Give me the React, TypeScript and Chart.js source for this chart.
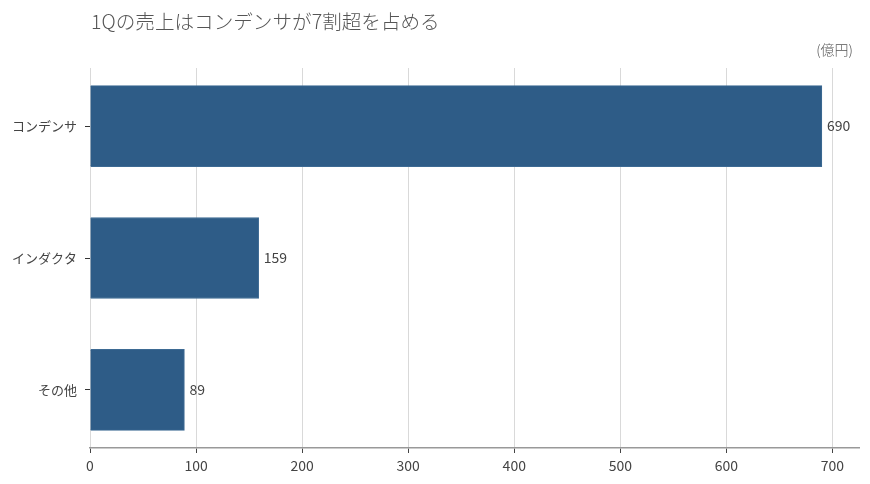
import React, { useEffect, useRef } from 'react';
import Chart from 'chart.js/auto';

const categories = ['コンデンサ', 'インダクタ', 'その他'];
const sales = [690, 159, 89];
const xTicks = [0, 100, 200, 300, 400, 500, 600, 700];

const titleText = '1Qの売上はコンデンサが7割超を占める';
const unitText = '(億円)';
const font = '"Noto Sans CJK JP", "Noto Sans", sans-serif';
const barColor = '#2e5c87';

// title and unit label drawn relative to the plot area
const headerPlugin = {
  id: 'header',
  afterDraw(chart: any) {
    const { ctx, chartArea } = chart;
    ctx.save();
    ctx.fillStyle = '#555';
    ctx.textBaseline = 'middle';
    ctx.font = `300 19.6px ${font}`;
    ctx.textAlign = 'left';
    ctx.fillText(titleText, chartArea.left + 1, 22);
    ctx.font = `300 14px ${font}`;
    ctx.textAlign = 'right';
    ctx.fillText(unitText, chartArea.right - 6, 50);
    ctx.restore();
  },
};

// value labels at the end of each bar
const valueLabels = {
  id: 'valueLabels',
  afterDatasetsDraw(chart: any) {
    const { ctx } = chart;
    const meta = chart.getDatasetMeta(0);
    ctx.save();
    ctx.fillStyle = '#444';
    ctx.font = `14px ${font}`;
    ctx.textAlign = 'left';
    ctx.textBaseline = 'middle';
    meta.data.forEach((bar: any, i: number) => {
      ctx.fillText(String(sales[i]), bar.x + 5, bar.y);
    });
    ctx.restore();
  },
};

const App = () => {
  const canvasRef = useRef<HTMLCanvasElement | null>(null);
  const chartRef = useRef<Chart | null>(null);

  useEffect(() => {
    document.body.style.margin = '0';
    if (!canvasRef.current) return;
    if (chartRef.current) chartRef.current.destroy();

    const ctx = canvasRef.current.getContext('2d');
    if (!ctx) return;

    chartRef.current = new Chart(ctx, {
      type: 'bar',
      data: {
        datasets: [
          {
            data: sales.map((v, i) => ({ x: v, y: i })),
            backgroundColor: barColor,
            borderColor: '#3d6a93',
            borderWidth: 1,
            barThickness: 81,
          },
        ],
      },
      options: {
        indexAxis: 'y',
        animation: false,
        responsive: false,
        maintainAspectRatio: false,
        layout: { padding: { top: 68, right: 11, bottom: 0, left: 0 } },
        plugins: {
          legend: { display: false },
          tooltip: { enabled: false },
        },
        scales: {
          x: {
            type: 'linear',
            min: 0,
            max: 725,
            offset: false,
            afterFit: (scale: any) => {
              scale.height = 36;
            },
            afterBuildTicks: (scale: any) => {
              scale.ticks = xTicks.map((v) => ({ value: v }));
            },
            ticks: {
              color: '#444',
              font: { family: font, size: 14 },
              padding: 4,
            },
            grid: {
              color: '#d9d9d9',
              lineWidth: 1,
              tickColor: '#444',
              tickLength: 5,
              offset: false,
            },
            border: { display: true, color: '#999', width: 1.5 },
          },
          y: {
            type: 'linear',
            reverse: true,
            min: -0.44,
            max: 2.44,
            offset: false,
            afterFit: (scale: any) => {
              scale.width = 90;
            },
            afterBuildTicks: (scale: any) => {
              scale.ticks = categories.map((_, i) => ({ value: i }));
            },
            ticks: {
              color: '#444',
              font: { family: font, size: 13 },
              padding: 8,
              callback: (v: any) => categories[v] ?? '',
            },
            grid: {
              drawOnChartArea: false,
              tickColor: '#333',
              tickLength: 5,
              offset: false,
            },
            border: { display: false },
          },
        },
      },
      plugins: [headerPlugin, valueLabels],
    } as any);

    return () => {
      if (chartRef.current) {
        chartRef.current.destroy();
        chartRef.current = null;
      }
    };
  }, []);

  return (
    <div style={{ width: 870, height: 484 }}>
      <canvas ref={canvasRef} width={870} height={484} style={{ width: 870, height: 484 }} />
    </div>
  );
};

export default App;
